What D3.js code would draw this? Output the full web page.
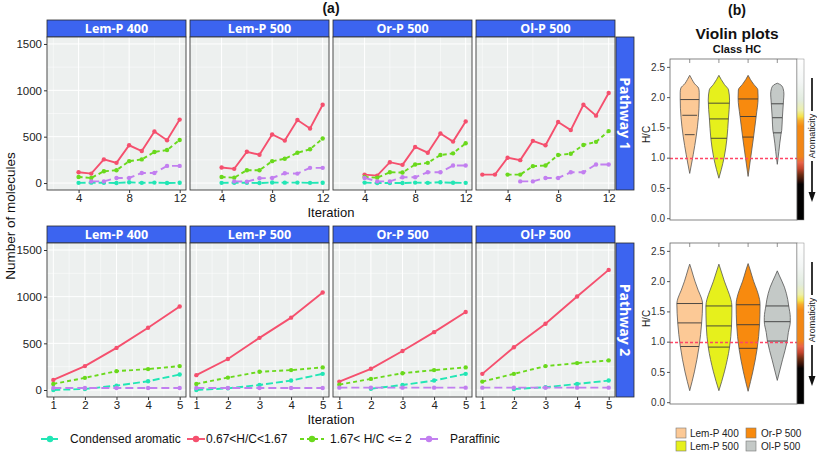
<!DOCTYPE html>
<html><head><meta charset="utf-8">
<script src="https://cdn.jsdelivr.net/npm/d3@7"></script>
<style>
body{margin:0;background:#fff}
svg{display:block}
text{font-family:"Liberation Sans",Arial,sans-serif}
</style>
</head><body>
<svg id="c" width="817" height="453"></svg>
<script>
// ---------------- DATA ----------------
const facets = ["Lem-P 400", "Lem-P 500", "Or-P 500", "Ol-P 500"];
const pathways = ["Pathway 1", "Pathway 2"];
const seriesNames = ["Condensed aromatic", "0.67<H/C<1.67", "1.67< H/C <= 2", "Paraffinic"];
const seriesColors = ["#22e6b5", "#f5506e", "#6ad91c", "#c27ff0"];
const seriesDash = ["7,3", null, "4,3", "8,4"];

const iterP1 = [2, 3, 4, 5, 6, 7, 8, 9, 10, 11, 12];
const iterP2 = [1, 2, 3, 4, 5];
const xTicksP1 = [4, 8, 12];
const xTicksP2 = [1, 2, 3, 4, 5];
const yTicks = [0, 500, 1000, 1500];

// Pathway 1, one row per facet (Lem-P 400, Lem-P 500, Or-P 500, Ol-P 500)
const p1Condensed = [
  [null, null, 2, 4, 3, 0, 8, 2, 5, 1, 3],
  [null, null, 2, 3, 3, 0, 6, 4, 5, 2, 3],
  [null, null, 5, 0, 0, 0, 5, 2, 8, 3, 2],
  [null, null, null, null, null, null, null, null, null, null, null]
];
const p1Mid = [
  [null, null, 116, 102, 255, 218, 407, 345, 556, 462, 684],
  [null, null, 167, 153, 338, 305, 524, 458, 680, 589, 844],
  [null, null, 91, 80, 225, 196, 389, 327, 535, 447, 665],
  [91, 91, 273, 247, 455, 407, 658, 571, 844, 727, 971]
];
const p1High = [
  [null, null, 65, 55, 127, 138, 236, 255, 335, 356, 465],
  [null, null, 65, 58, 138, 138, 236, 262, 327, 364, 480],
  [null, null, 65, 58, 116, 113, 200, 218, 302, 320, 429],
  [null, null, 91, 91, 182, 189, 302, 316, 411, 444, 560]
];
const p1Paraffinic = [
  [null, null, null, 18, 18, 55, 55, 109, 109, 185, 185],
  [null, null, null, 18, 15, 51, 55, 105, 102, 164, 164],
  [null, null, 55, 18, 18, 62, 62, 116, 116, 189, 189],
  [null, null, null, 18, 18, 55, 55, 116, 116, 200, 200]
];
// Pathway 2
const p2Condensed = [
  [0, 11, 47, 94, 166],
  [0, 18, 54, 101, 173],
  [null, 14, 54, 101, 173],
  [null, 11, 29, 65, 101]
];
const p2Mid = [
  [108, 256, 451, 667, 894],
  [159, 332, 559, 775, 1045],
  [90, 227, 418, 620, 836],
  [173, 458, 710, 1002, 1287]
];
const p2High = [
  [65, 130, 202, 224, 256],
  [65, 133, 195, 213, 242],
  [58, 119, 180, 213, 242],
  [90, 173, 256, 288, 317]
];
const p2Paraffinic = [
  [22, 22, 22, 22, 22],
  [22, 22, 22, 22, 22],
  [25, 25, 25, 25, 25],
  [25, 25, 25, 25, 25]
];

// Violin plots (H/C, relative density) per sample
const violinNames = ["Lem-P 400", "Lem-P 500", "Or-P 500", "Ol-P 500"];
const violinColors = ["#fcc996", "#e6f01c", "#f88a0e", "#c4c9c7"];
const hcTicks = [0, 0.5, 1, 1.5, 2, 2.5];
const violinP1 = [
  [[2.36,0],[2.29,0.18],[2.22,0.38],[2.15,0.68],[2.08,0.73],[1.97,0.73],[0.74,0]],
  [[2.36,0],[2.29,0.18],[2.21,0.42],[2.12,0.74],[1.95,0.82],[1.64,0.73],[1.32,0.62],[1.0,0.4],[0.8,0.18],[0.66,0]],
  [[2.36,0],[2.29,0.18],[2.21,0.44],[2.12,0.75],[1.99,0.77],[1.68,0.62],[1.34,0.42],[1.0,0.2],[0.69,0]],
  [[2.23,0],[2.2,0.28],[2.14,0.45],[2.05,0.51],[1.95,0.48],[1.66,0.39],[1.45,0.34],[1.38,0.28],[1.1,0.12],[0.89,0]]
];
const violinP2 = [
  [[2.28,0],[2.2,0.12],[2.0,0.4],[1.85,0.65],[1.72,0.9],[1.63,0.99],[1.31,0.92],[0.92,0.72],[0.5,0.36],[0.19,0]],
  [[2.28,0],[2.2,0.12],[2.0,0.42],[1.85,0.68],[1.7,0.92],[1.59,1.0],[1.26,0.97],[0.91,0.82],[0.5,0.42],[0.19,0]],
  [[2.29,0],[2.2,0.14],[2.0,0.42],[1.85,0.68],[1.7,0.88],[1.61,0.92],[1.28,0.88],[0.89,0.7],[0.5,0.36],[0.18,0]],
  [[2.17,0],[2.1,0.14],[1.9,0.55],[1.7,0.8],[1.59,0.88],[1.4,1.0],[1.33,1.0],[1.15,0.85],[1.01,0.76],[0.7,0.4],[0.36,0]]
];
const quartilesP1 = [[1.96,1.70,1.38],[1.90,1.64,1.32],[1.97,1.68,1.34],[1.89,1.66,1.41]];
const quartilesP2 = [[1.63,1.31,0.92],[1.59,1.26,0.91],[1.61,1.28,0.89],[1.59,1.33,1.01]];
const hcThreshold = 1.0;
// aromaticity colour bar stops (H/C, colour)
const aromStops = [
  [2.63,"#ffffff"],[2.25,"#f3f6f5"],[1.95,"#e2ecdf"],[1.78,"#edf0a8"],[1.68,"#f5e248"],
  [1.61,"#f7a92a"],[1.52,"#f58a12"],[1.02,"#f08418"],[0.92,"#ea6448"],[0.82,"#c4442c"],
  [0.72,"#6e2c12"],[0.62,"#321008"],[0.56,"#050202"],[-0.03,"#000000"]
];

// ---------------- DRAW ----------------
const svg = d3.select("#c");
const stripBlue = "#3c64f0";
const panelBg = "#edf0ef";

const panelLeft = 47, panelW = 139, panelStep = 143;
const rows = [
  {stripY: 20, y0: 37, y1: 190, iters: iterP1, xDom: [1.5, 12.5], ticks: xTicksP1, minor: [2, 6, 10],
   data: [p1Condensed, p1Mid, p1High, p1Paraffinic]},
  {stripY: 226, y0: 243, y1: 397, iters: iterP2, xDom: [0.8, 5.2], ticks: xTicksP2, minor: [1.5, 2.5, 3.5, 4.5],
   data: [p2Condensed, p2Mid, p2High, p2Paraffinic]}
];

rows.forEach((row, ri) => {
  const y = d3.scaleLinear().domain([-75, 1575]).range([row.y1, row.y0]);
  facets.forEach((fname, fi) => {
    const x0 = panelLeft + fi * panelStep;
    const x = d3.scaleLinear().domain(row.xDom).range([x0, x0 + panelW]);
    const g = svg.append("g");
    // strip
    g.append("rect").attr("x", x0).attr("y", row.stripY).attr("width", panelW).attr("height", row.y0 - row.stripY)
      .attr("fill", stripBlue).attr("stroke", "#2a2a2a").attr("stroke-width", 0.8);
    g.append("text").attr("x", x0 + panelW / 2).attr("y", (row.stripY + row.y0) / 2 + 4.5)
      .attr("text-anchor", "middle").attr("fill", "#fff").style("font-family", "'Open Sans',sans-serif")
      .style("font-weight", "bold").style("font-size", "12.5px").text(fname);
    // panel bg
    g.append("rect").attr("x", x0).attr("y", row.y0).attr("width", panelW).attr("height", row.y1 - row.y0)
      .attr("fill", panelBg);
    // grid
    const yMinor = [250, 750, 1250];
    g.selectAll(".ymn").data(yMinor).join("line").attr("x1", x0).attr("x2", x0 + panelW)
      .attr("y1", d => y(d)).attr("y2", d => y(d)).attr("stroke", "#fff").attr("stroke-width", 0.5);
    g.selectAll(".xmn").data(row.minor).join("line").attr("y1", row.y0).attr("y2", row.y1)
      .attr("x1", d => x(d)).attr("x2", d => x(d)).attr("stroke", "#fff").attr("stroke-width", 0.5);
    g.selectAll(".ymj").data(yTicks).join("line").attr("x1", x0).attr("x2", x0 + panelW)
      .attr("y1", d => y(d)).attr("y2", d => y(d)).attr("stroke", "#fff").attr("stroke-width", 1);
    g.selectAll(".xmj").data(row.ticks).join("line").attr("y1", row.y0).attr("y2", row.y1)
      .attr("x1", d => x(d)).attr("x2", d => x(d)).attr("stroke", "#fff").attr("stroke-width", 1);
    // series
    row.data.forEach((ser, si) => {
      const vals = ser[fi];
      const pts = row.iters.map((it, k) => ({it, v: vals[k]})).filter(d => d.v != null);
      if (!pts.length) return;
      const line = d3.line().x(d => x(d.it)).y(d => y(d.v));
      g.append("path").attr("d", line(pts)).attr("fill", "none").attr("stroke", seriesColors[si])
        .attr("stroke-width", 1.9).attr("stroke-dasharray", seriesDash[si]);
      g.selectAll(".pt" + si).data(pts).join("circle").attr("cx", d => x(d.it)).attr("cy", d => y(d.v))
        .attr("r", 2.2).attr("fill", seriesColors[si]);
    });
    // border
    g.append("rect").attr("x", x0).attr("y", row.y0).attr("width", panelW).attr("height", row.y1 - row.y0)
      .attr("fill", "none").attr("stroke", "#3a3a3a").attr("stroke-width", 0.9);
    // x axis
    const xa = g.append("g").attr("transform", `translate(0,${row.y1})`)
      .call(d3.axisBottom(x).tickValues(row.ticks).tickSize(3).tickPadding(1).tickFormat(d3.format("d")));
    xa.select(".domain").remove();
    xa.selectAll("line").attr("stroke", "#333");
    xa.selectAll("text").attr("fill", "#222").style("font-size", "11.5px");
    if (fi === 0) {
      const ya = g.append("g").attr("transform", `translate(${x0},0)`)
        .call(d3.axisLeft(y).tickValues(yTicks).tickSize(3).tickPadding(2).tickFormat(d3.format("d")));
      ya.select(".domain").remove();
      ya.selectAll("line").attr("stroke", "#333");
      ya.selectAll("text").attr("fill", "#222").style("font-size", "11.5px");
    }
  });
  // right pathway strip
  const sx = panelLeft + 3 * panelStep + panelW + 1;
  svg.append("rect").attr("x", sx).attr("y", row.y0).attr("width", 18).attr("height", row.y1 - row.y0)
    .attr("fill", stripBlue).attr("stroke", "#2a2a2a").attr("stroke-width", 0.8);
  svg.append("text").attr("transform", `translate(${sx + 9 - 5},${(row.y0 + row.y1) / 2}) rotate(90)`)
    .attr("text-anchor", "middle").attr("fill", "#fff").style("font-family", "'Open Sans',sans-serif")
    .style("font-weight", "bold").style("font-size", "14px").text(pathways[ri]);
  // x title
  svg.append("text").attr("x", panelLeft + (3 * panelStep + panelW) / 2).attr("y", row.y1 + 27)
    .attr("text-anchor", "middle").attr("fill", "#111").style("font-size", "13px").text("Iteration");
});

svg.append("text").attr("transform", "translate(15,216) rotate(-90)").attr("text-anchor", "middle")
  .attr("fill", "#111").style("font-size", "13.5px").text("Number of molecules");
svg.append("text").attr("x", 331).attr("y", 13).attr("text-anchor", "middle").attr("fill", "#111")
  .style("font-weight", "bold").style("font-size", "14px").text("(a)");

// legend
const legKeyX = [50, 196, 312, 429];
const legTextX = [70, 206, 330, 450];
const legY = 439;
seriesNames.forEach((nm, i) => {
  const kw = i === 2 ? 12 : 9;
  svg.append("line").attr("x1", legKeyX[i] - kw).attr("x2", legKeyX[i] + kw).attr("y1", legY).attr("y2", legY)
    .attr("stroke", seriesColors[i]).attr("stroke-width", 1.9).attr("stroke-dasharray", seriesDash[i]);
  svg.append("circle").attr("cx", legKeyX[i]).attr("cy", legY).attr("r", 3.2).attr("fill", seriesColors[i]);
  svg.append("text").attr("x", legTextX[i]).attr("y", legY + 4).attr("fill", "#111")
    .style("font-size", "12px").text(nm);
});

// ---------------- VIOLINS ----------------
svg.append("text").attr("x", 737).attr("y", 15).attr("text-anchor", "middle").attr("fill", "#111")
  .style("font-weight", "bold").style("font-size", "14px").text("(b)");
svg.append("text").attr("x", 737).attr("y", 39).attr("text-anchor", "middle").attr("fill", "#111")
  .style("font-weight", "bold").style("font-size", "15.5px").text("Violin plots");
svg.append("text").attr("x", 737).attr("y", 53).attr("text-anchor", "middle").attr("fill", "#111")
  .style("font-weight", "bold").style("font-size", "11px").text("Class HC");

const vPanels = [
  {y0: 59, y1: 220, prof: violinP1, q: quartilesP1, id: "g1"},
  {y0: 243, y1: 404, prof: violinP2, q: quartilesP2, id: "g2"}
];
const vx0 = 670, vx1 = 797, cbW = 7;
const wScale = d3.scaleLinear().domain([0, 1]).range([0, 13]);
const xv = d3.scalePoint().domain(violinNames).range([vx0, vx1]).padding(0.675);
const defs = svg.append("defs");

function interpW(prof, h) {
  for (let i = 0; i < prof.length - 1; i++) {
    const a = prof[i], b = prof[i + 1];
    if (h <= a[0] && h >= b[0]) {
      const t = (a[0] - h) / (a[0] - b[0]);
      return a[1] + t * (b[1] - a[1]);
    }
  }
  return 0;
}

vPanels.forEach((vp) => {
  const yv = d3.scaleLinear().domain([-0.03, 2.63]).range([vp.y1, vp.y0]);
  const g = svg.append("g");
  g.append("rect").attr("x", vx0).attr("y", vp.y0).attr("width", vx1 - vx0).attr("height", vp.y1 - vp.y0)
    .attr("fill", "#fff");
  // violins
  violinNames.forEach((nm, i) => {
    const cx = xv(nm);
    const area = d3.area().curve(d3.curveMonotoneY)
      .y(d => yv(d[0])).x0(d => cx - wScale(d[1])).x1(d => cx + wScale(d[1]));
    g.append("path").attr("d", area(vp.prof[i])).attr("fill", violinColors[i])
      .attr("stroke", "#555").attr("stroke-width", 0.8);
    vp.q[i].forEach(h => {
      const w = wScale(interpW(vp.prof[i], h));
      g.append("line").attr("x1", cx - w).attr("x2", cx + w).attr("y1", yv(h)).attr("y2", yv(h))
        .attr("stroke", "#3a3a3a").attr("stroke-width", 0.9);
    });
    g.append("line").attr("x1", cx).attr("x2", cx).attr("y1", vp.y0).attr("y2", vp.y0 + 4)
      .attr("stroke", "#777").attr("stroke-width", 0.8);
  });
  // threshold
  const ty = Math.round(yv(hcThreshold)) + 0.5;
  g.append("line").attr("x1", vx0).attr("x2", vx1).attr("y1", ty).attr("y2", ty)
    .attr("stroke", "#ff4466").attr("stroke-width", 1.6).attr("stroke-dasharray", "3,2");
  // frame
  g.append("rect").attr("x", vx0).attr("y", vp.y0).attr("width", vx1 - vx0).attr("height", vp.y1 - vp.y0)
    .attr("fill", "none").attr("stroke", "#666").attr("stroke-width", 0.8);
  // colourbar
  const grad = defs.append("linearGradient").attr("id", vp.id).attr("gradientUnits", "userSpaceOnUse")
    .attr("x1", 0).attr("x2", 0).attr("y1", vp.y0).attr("y2", vp.y1);
  aromStops.forEach(s => {
    grad.append("stop").attr("offset", (yv(s[0]) - vp.y0) / (vp.y1 - vp.y0)).attr("stop-color", s[1]);
  });
  g.append("rect").attr("x", vx1).attr("y", vp.y0).attr("width", cbW).attr("height", vp.y1 - vp.y0)
    .attr("fill", `url(#${vp.id})`).attr("stroke", "#888").attr("stroke-width", 0.5);
  // y axis
  const ya = g.append("g").attr("transform", `translate(${vx0},0)`)
    .call(d3.axisLeft(yv).tickValues(hcTicks).tickSize(3).tickPadding(2).tickFormat(d3.format(".1f")));
  ya.select(".domain").remove();
  ya.selectAll("line").attr("stroke", "#555");
  ya.selectAll("text").attr("fill", "#333").style("font-size", "10px");
  g.append("text").attr("transform", `translate(650,${(vp.y0 + vp.y1) / 2 - 5}) rotate(-90)`)
    .attr("text-anchor", "middle").attr("fill", "#222").style("font-size", "10px").text("H/C");
  // aromaticity arrow
  const ax = 812;
  const top = vp.y0 + 19, mid = vp.y0 + 77, bot = vp.y0 + 143;
  g.append("line").attr("x1", ax).attr("x2", ax).attr("y1", top).attr("y2", mid - 25)
    .attr("stroke", "#111").attr("stroke-width", 1.7);
  g.append("line").attr("x1", ax).attr("x2", ax).attr("y1", mid + 25).attr("y2", bot - 8)
    .attr("stroke", "#111").attr("stroke-width", 1.7);
  g.append("path").attr("d", `M${ax - 3.5},${bot - 10}L${ax + 3.5},${bot - 10}L${ax},${bot}Z`).attr("fill", "#111");
  g.append("text").attr("transform", `translate(${ax + 3},${mid}) rotate(-90)`).attr("text-anchor", "middle")
    .attr("fill", "#222").style("font-size", "9px").text("Aromaticity");
});

// violin legend
const vlegX = [676, 746], vlegTX = [690, 761], vlegY = [428, 441];
violinNames.forEach((nm, i) => {
  const col = i === 0 || i === 1 ? 0 : 1;
  const r = i % 2;
  svg.append("rect").attr("x", vlegX[col]).attr("y", vlegY[r]).attr("width", 10).attr("height", 10)
    .attr("fill", violinColors[i]).attr("stroke", "#777").attr("stroke-width", 0.6);
  svg.append("text").attr("x", vlegTX[col]).attr("y", vlegY[r] + 9).attr("fill", "#222")
    .style("font-size", "10px").text(nm);
});
</script>
</body></html>
